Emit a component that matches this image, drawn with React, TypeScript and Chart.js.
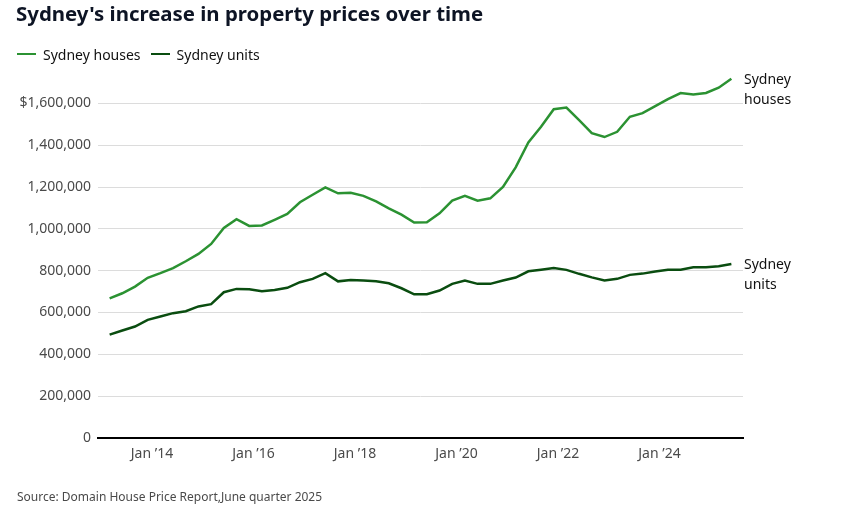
import React, { useEffect, useRef } from "react";
import { Chart, registerables } from "chart.js";

Chart.register(...registerables);

const quarters = [
  "2013-03", "2013-06", "2013-09", "2013-12",
  "2014-03", "2014-06", "2014-09", "2014-12",
  "2015-03", "2015-06", "2015-09", "2015-12",
  "2016-03", "2016-06", "2016-09", "2016-12",
  "2017-03", "2017-06", "2017-09", "2017-12",
  "2018-03", "2018-06", "2018-09", "2018-12",
  "2019-03", "2019-06", "2019-09", "2019-12",
  "2020-03", "2020-06", "2020-09", "2020-12",
  "2021-03", "2021-06", "2021-09", "2021-12",
  "2022-03", "2022-06", "2022-09", "2022-12",
  "2023-03", "2023-06", "2023-09", "2023-12",
  "2024-03", "2024-06", "2024-09", "2024-12",
  "2025-03", "2025-06",
];

const housesK = [
  668, 692, 724, 766, 788, 812, 845, 880, 928, 1004,
  1046, 1014, 1016, 1043, 1071, 1127, 1163, 1198, 1170, 1173,
  1158, 1131, 1098, 1068, 1030, 1031, 1074, 1135, 1158, 1135,
  1146, 1201, 1294, 1413, 1488, 1572, 1580, 1520, 1458, 1439,
  1464, 1536, 1553, 1587, 1620, 1649, 1642, 1650, 1675, 1718,
];

const unitsK = [
  494, 514, 533, 565, 581, 597, 606, 629, 640, 697,
  713, 711, 702, 708, 718, 745, 761, 788, 749, 756,
  753, 749, 740, 716, 687, 687, 705, 737, 753, 737,
  737, 753, 767, 797, 805, 813, 804, 785, 768, 753,
  761, 780, 786, 796, 805, 805, 816, 816, 821, 832,
];

const xTickDates = ["2014-01", "2016-01", "2018-01", "2020-01", "2022-01", "2024-01"];
const xTickLabels = ["Jan \u201914", "Jan \u201916", "Jan \u201918", "Jan \u201920", "Jan \u201922", "Jan \u201924"];
const yTicks = [0, 200000, 400000, 600000, 800000, 1000000, 1200000, 1400000, 1600000];

const seriesNames = ["Sydney houses", "Sydney units"];
const endLabels = [["Sydney", "houses"], ["Sydney", "units"]];
const colors = ["#2b9232", "#0a4d10"];

const FONT = "'Noto Sans', sans-serif";

function monthIndex(s: string): number {
  const [y, m] = s.split("-").map(Number);
  return (y - 2013) * 12 + (m - 1);
}

const endLabelPlugin = {
  id: "endLabels",
  afterDatasetsDraw(chart: any) {
    const ctx = chart.ctx;
    ctx.save();
    ctx.font = `14px ${FONT}`;
    ctx.fillStyle = "#111111";
    ctx.textAlign = "left";
    ctx.textBaseline = "middle";
    chart.data.datasets.forEach((ds: any, di: number) => {
      const meta = chart.getDatasetMeta(di);
      const last = meta.data[meta.data.length - 1];
      const x = chart.chartArea.right + 1;
      endLabels[di].forEach((line, li) => {
        ctx.fillText(line, x, last.y + 1.5 + li * 20);
      });
    });
    ctx.restore();
  },
};

export default function App() {
  const ref = useRef<HTMLCanvasElement | null>(null);

  useEffect(() => {
    if (!ref.current) return;
    const mk = (vals: number[]) => vals.map((v, i) => ({ x: monthIndex(quarters[i]), y: v * 1000 }));
    const chart = new Chart(ref.current, {
      type: "line",
      data: {
        datasets: [
          {
            label: seriesNames[0],
            data: mk(housesK),
            borderColor: colors[0],
            backgroundColor: colors[0],
            borderWidth: 2.5,
            pointRadius: 0,
            tension: 0,
          },
          {
            label: seriesNames[1],
            data: mk(unitsK),
            borderColor: colors[1],
            backgroundColor: colors[1],
            borderWidth: 2.5,
            pointRadius: 0,
            tension: 0,
          },
        ],
      },
      options: {
        responsive: false,
        animation: false,
        devicePixelRatio: 1,
        layout: { padding: { left: 0, top: 72, right: 109, bottom: 0 } },
        plugins: {
          legend: { display: false },
          tooltip: { enabled: false },
          title: { display: false },
        },
        scales: {
          x: {
            type: "linear",
            min: -0.75,
            max: 151.75,
            afterFit: (s: any) => {
              s.height = 76;
            },
            afterBuildTicks: (s: any) => {
              s.ticks = xTickDates.map((d) => ({ value: monthIndex(d) }));
            },
            ticks: {
              autoSkip: false,
              maxRotation: 0,
              padding: 8,
              color: "#4a4a4a",
              font: { family: FONT, size: 14 },
              callback: (v: any) => {
                const idx = xTickDates.findIndex((d) => monthIndex(d) === v);
                return idx >= 0 ? xTickLabels[idx] : "";
              },
            },
            grid: { display: false, drawTicks: false },
            border: { display: true, color: "#000000", width: 2 },
          },
          y: {
            min: 0,
            max: 1750000,
            afterFit: (s: any) => {
              s.width = 98;
            },
            afterBuildTicks: (s: any) => {
              s.ticks = yTicks.map((v) => ({ value: v }));
            },
            ticks: {
              padding: 7,
              color: "#4a4a4a",
              font: { family: FONT, size: 14 },
              callback: (v: any) =>
                v === 1600000 ? "$" + Number(v).toLocaleString("en-US") : Number(v).toLocaleString("en-US"),
            },
            grid: {
              drawTicks: false,
              color: (c: any) => (c.tick && c.tick.value === 0 ? "rgba(0,0,0,0)" : "#dcdcdc"),
              lineWidth: 1,
            },
            border: { display: false },
          },
        },
      },
      plugins: [endLabelPlugin],
    });
    return () => chart.destroy();
  }, []);

  return (
    <div style={{ position: "fixed", left: 0, top: 0, width: 852, height: 514, background: "#fff", fontFamily: FONT }}>
      <canvas ref={ref} width={852} height={514} style={{ position: "absolute", left: 0, top: 0 }} />
      <div
        style={{
          position: "absolute",
          left: 16,
          top: 0,
          fontSize: 20.4,
          lineHeight: "27px",
          fontWeight: 700,
          color: "#0d1424",
          whiteSpace: "nowrap",
        }}
      >
        Sydney's increase in property prices over time
      </div>
      <div
        style={{
          position: "absolute",
          left: 17,
          top: 44,
          height: 20,
          display: "flex",
          alignItems: "center",
          fontSize: 14,
          color: "#111",
          whiteSpace: "nowrap",
        }}
      >
        {seriesNames.map((n, i) => (
          <span key={n} style={{ display: "flex", alignItems: "center", marginRight: 10 }}>
            <span style={{ display: "inline-block", width: 19, height: 2.5, background: colors[i], marginRight: 7 }} />
            <span>{n}</span>
          </span>
        ))}
      </div>
      <div
        style={{
          position: "absolute",
          left: 17,
          top: 488,
          fontSize: 12,
          lineHeight: "18px",
          color: "#4a4a4a",
          whiteSpace: "nowrap",
        }}
      >
        Source: Domain House Price Report,June quarter 2025
      </div>
    </div>
  );
}
